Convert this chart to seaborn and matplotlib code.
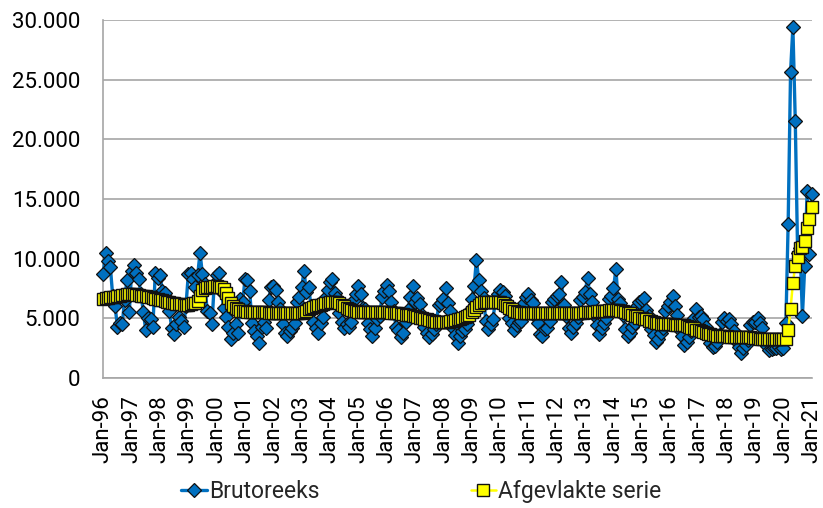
import numpy as np
import pandas as pd
import matplotlib
matplotlib.use("Agg")
import matplotlib.pyplot as plt
import matplotlib.dates as mdates
from matplotlib.ticker import FuncFormatter
import seaborn as sns

# Monthly values, Jan-96 .. Jan-21
brutoreeks = [
    8700, 10500, 9800, 9300, 6900, 6000, 4300, 4600, 4500, 6500, 8200, 5500,   # 1996
    9000, 9500, 8800, 8300, 7000, 5500, 4000, 5000, 4900, 4300, 8800, 8400,    # 1997
    8600, 7300, 7100, 6400, 5600, 4200, 3700, 4500, 5100, 4800, 4300, 6000,    # 1998
    8700, 8800, 8300, 7600, 8600, 10500, 8700, 7900, 5600, 5400, 4500, 7900,   # 1999
    8600, 8800, 7300, 5900, 5100, 4300, 3300, 3800, 4500, 3800, 6600, 6400,    # 2000
    8300, 8200, 7300, 4600, 3900, 3500, 2900, 4300, 4700, 4200, 6500, 7600,    # 2001
    7700, 7400, 6400, 5800, 4500, 3800, 3500, 3900, 4200, 4600, 6400, 6800,    # 2002
    7600, 9000, 7200, 7600, 6000, 4700, 4200, 3800, 4600, 5100, 6700, 7400,    # 2003
    8000, 8300, 7100, 6700, 5400, 4700, 4200, 4500, 4300, 4700, 6500, 7000,    # 2004
    7700, 7000, 5900, 5800, 4600, 4100, 3500, 4200, 4900, 5200, 6800, 7300,    # 2005
    7800, 7300, 6400, 5600, 4300, 4000, 3400, 3800, 4700, 5700, 6800, 7700,    # 2006
    6400, 6700, 6200, 5300, 4300, 3800, 3400, 3700, 4100, 4500, 6100, 6300,    # 2007
    6600, 7500, 6300, 5600, 4200, 3600, 2900, 3500, 3900, 4100, 4500, 5600,    # 2008
    6600, 7700, 9900, 8200, 7300, 6700, 4800, 4100, 4500, 4900, 6500, 7000,    # 2009
    7400, 7200, 6900, 6200, 5000, 4600, 4000, 4400, 4700, 4800, 6300, 6800,    # 2010
    7000, 6500, 6300, 5200, 4600, 3700, 3500, 4100, 4200, 4800, 6400, 6600,    # 2011
    6900, 7000, 8000, 6100, 5200, 4200, 3800, 4300, 4600, 5100, 6500, 6800,    # 2012
    7200, 8400, 7000, 6400, 5300, 4400, 3700, 4200, 4600, 5000, 6600, 6900,    # 2013
    7500, 9100, 6600, 6300, 5300, 4100, 3500, 3800, 4300, 4600, 6000, 6400,    # 2014
    6500, 6700, 5700, 5200, 4100, 3600, 3000, 3300, 3800, 4200, 5600, 6000,    # 2015
    6400, 6900, 6000, 5300, 4000, 3500, 2800, 3000, 3400, 3900, 5000, 5800,    # 2016
    5100, 5200, 4900, 4300, 3500, 2900, 2600, 2700, 3000, 3600, 4700, 5000,    # 2017
    4800, 4900, 4500, 3900, 3100, 2600, 2100, 2500, 2800, 3200, 4400, 4700,    # 2018
    4700, 5000, 4600, 4200, 3100, 2700, 2300, 2400, 2500, 2500, 2600, 2400,    # 2019
    2500, 4600, 12900, 25600, 29400, 21500, 10500, 10900, 5200, 9400, 15700, 10400,  # 2020
    15400,                                                                      # 2021
]

afgevlakte_serie = [
    6650, 6700, 6700, 6750, 6750, 6800, 6850, 6900, 6950, 6950, 7000, 7000,    # 1996
    7000, 7000, 6950, 6950, 6900, 6850, 6850, 6800, 6750, 6700, 6650, 6600,    # 1997
    6550, 6500, 6450, 6400, 6350, 6300, 6250, 6200, 6200, 6200, 6150, 6150,    # 1998
    6150, 6200, 6250, 6300, 6450, 6900, 7350, 7500, 7600, 7650, 7650, 7700,    # 1999
    7700, 7650, 7600, 7450, 7100, 6700, 6300, 6000, 5850, 5750, 5650, 5600,    # 2000
    5600, 5550, 5550, 5550, 5550, 5550, 5550, 5500, 5500, 5500, 5450, 5450,    # 2001
    5450, 5450, 5450, 5400, 5400, 5400, 5400, 5400, 5400, 5400, 5400, 5450,    # 2002
    5450, 5500, 5600, 5750, 5850, 5950, 6000, 6100, 6150, 6200, 6250, 6300,    # 2003
    6350, 6400, 6400, 6350, 6250, 6150, 6000, 5900, 5800, 5700, 5650, 5600,    # 2004
    5550, 5550, 5550, 5550, 5550, 5550, 5550, 5550, 5550, 5550, 5550, 5550,    # 2005
    5550, 5500, 5450, 5450, 5400, 5400, 5350, 5350, 5300, 5300, 5250, 5200,    # 2006
    5150, 5100, 5050, 5000, 4950, 4900, 4850, 4800, 4750, 4700, 4650, 4650,    # 2007
    4650, 4650, 4700, 4750, 4800, 4850, 4900, 4950, 5000, 5100, 5200, 5300,    # 2008
    5500, 5700, 5950, 6150, 6300, 6400, 6400, 6400, 6400, 6400, 6400, 6400,    # 2009
    6400, 6300, 6150, 6000, 5850, 5750, 5650, 5550, 5500, 5450, 5450, 5400,    # 2010
    5400, 5400, 5400, 5400, 5400, 5400, 5400, 5400, 5400, 5400, 5400, 5400,    # 2011
    5400, 5400, 5450, 5450, 5450, 5450, 5450, 5450, 5450, 5450, 5450, 5450,    # 2012
    5500, 5500, 5550, 5550, 5550, 5600, 5600, 5600, 5650, 5650, 5700, 5700,    # 2013
    5700, 5700, 5700, 5650, 5600, 5500, 5450, 5400, 5300, 5200, 5150, 5050,    # 2014
    5000, 4950, 4900, 4800, 4750, 4650, 4600, 4600, 4550, 4550, 4500, 4500,    # 2015
    4500, 4500, 4450, 4450, 4450, 4450, 4400, 4350, 4300, 4200, 4150, 4050,    # 2016
    4000, 3900, 3850, 3750, 3700, 3650, 3600, 3600, 3550, 3550, 3500, 3500,    # 2017
    3500, 3450, 3450, 3450, 3450, 3450, 3450, 3400, 3400, 3400, 3400, 3350,    # 2018
    3350, 3350, 3300, 3300, 3300, 3250, 3250, 3250, 3250, 3250, 3250, 3250,    # 2019
    3250, 3300, 4000, 5780, 7950, 9400, 10150, 10850, 11000, 11500, 12600, 13300,  # 2020
    14300,                                                                      # 2021
]

maanden = pd.date_range("1996-01-01", "2021-01-01", freq="MS")

sns.set_style("white")
plt.rcParams["font.family"] = ["Roboto", "DejaVu Sans"]

fig = plt.figure(figsize=(8.23, 5.08), dpi=100)
ax = fig.add_axes([0.1255, 0.256, 0.861, 0.705])

sns.lineplot(x=maanden, y=brutoreeks, ax=ax, color="#0070C0", linewidth=2.4,
             marker="D", markersize=7.5, markerfacecolor="#0070C0",
             markeredgecolor="#111111", markeredgewidth=0.9,
             label="Brutoreeks", clip_on=False, zorder=3)
sns.lineplot(x=maanden, y=afgevlakte_serie, ax=ax, color="#FFFF00", linewidth=1.8,
             marker="s", markersize=8, markerfacecolor="#FFFF00",
             markeredgecolor="#111111", markeredgewidth=1.0,
             label="Afgevlakte serie", clip_on=False, zorder=4)

ax.set_ylim(0, 30000)
ax.set_yticks(np.arange(0, 30001, 5000))
ax.yaxis.set_major_formatter(FuncFormatter(lambda v, _: f"{v:,.0f}".replace(",", ".")))
ax.set_xlim(maanden[0], maanden[-1])
ax.xaxis.set_major_locator(mdates.YearLocator())
ax.xaxis.set_major_formatter(mdates.DateFormatter("%b-%y"))
ax.set_xlabel("")
ax.set_ylabel("")

ax.grid(axis="y", color="#A6A6A6", linewidth=1.2)
ax.grid(axis="x", visible=False)
for side in ["top", "right"]:
    ax.spines[side].set_visible(False)
for side in ["left", "bottom"]:
    ax.spines[side].set_color("#A6A6A6")
    ax.spines[side].set_linewidth(1.2)
ax.tick_params(axis="both", which="major", direction="out", length=5.5, width=1.2,
               color="#A6A6A6", labelsize=16, labelcolor="black")
ax.tick_params(axis="x", labelrotation=90, pad=7)
ax.tick_params(axis="y", pad=11)

ax.get_legend().remove()
handles, labels = ax.get_legend_handles_labels()
fig.legend(handles, labels, loc="lower center", bbox_to_anchor=(0.512, -0.03), ncol=2,
           frameon=False, fontsize=16.5, columnspacing=6.6, handlelength=1.1,
           handletextpad=0.1)

fig.savefig("out.png", dpi=100)
